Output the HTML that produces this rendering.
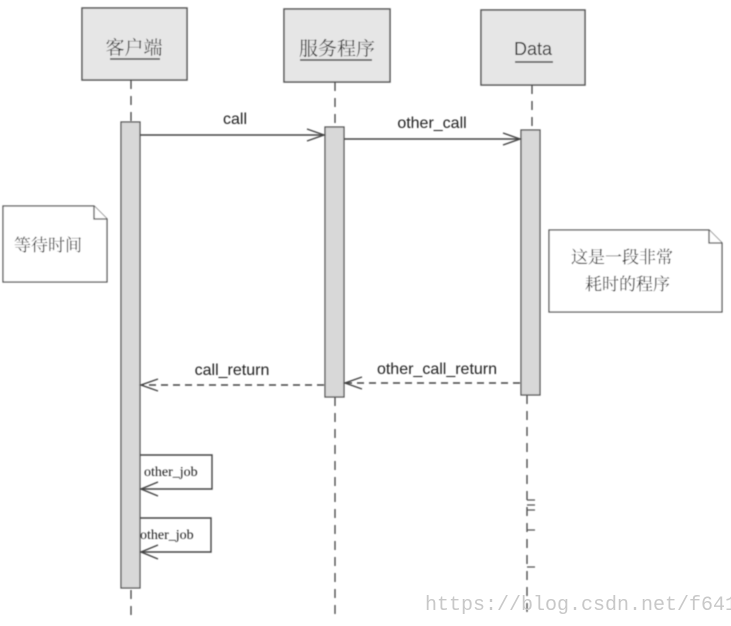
<!DOCTYPE html>
<html><head><meta charset="utf-8"><style>
body{margin:0;background:#fff;}
</style></head><body>
<svg width="731" height="626" xmlns="http://www.w3.org/2000/svg" style="display:block;font-family:'Liberation Serif','Noto Serif CJK SC',serif">
<defs><filter id="b"><feGaussianBlur stdDeviation="0.4"/></filter></defs>
<g filter="url(#b)">
<!-- boxes -->
<g fill="#e6e6e6" stroke="#555" stroke-width="1.5">
<rect x="82" y="8" width="105" height="72"/>
<rect x="284" y="9" width="106" height="73"/>
<rect x="481" y="10" width="104" height="75"/>
</g>
<g font-size="19" fill="#333" text-anchor="middle">
<text x="134" y="54">客户端</text>
<text x="337" y="55">服务程序</text>
<text x="533" y="55" font-family="Liberation Sans, sans-serif" font-size="18">Data</text>
</g>
<g stroke="#444" stroke-width="1.5">
<line x1="110" y1="59" x2="160" y2="59"/>
<line x1="300" y1="60" x2="372" y2="60"/>
<line x1="515" y1="62" x2="553" y2="62"/>
</g>
<!-- lifelines -->
<g stroke="#444" stroke-width="1.3" stroke-dasharray="9,7">
<line x1="131" y1="80" x2="131" y2="122"/>
<line x1="131" y1="590" x2="131" y2="615"/>
<line x1="335" y1="82" x2="335" y2="127"/>
<line x1="335" y1="397" x2="335" y2="615"/>
<line x1="532" y1="85" x2="532" y2="130"/>
<line x1="527" y1="395" x2="527" y2="615"/>
</g>
<g stroke="#555" stroke-width="1.2" fill="none">
<path d="M527 500h8M527 505h8M527 510h8M527 530h8M527 567h8"/>
</g>
<!-- activations -->
<g fill="#d8d8d8" stroke="#555" stroke-width="1.3">
<rect x="121" y="122" width="19" height="466"/>
<rect x="325" y="127" width="19" height="270"/>
<rect x="521" y="130" width="19" height="265"/>
</g>
<!-- messages -->
<g stroke="#444" stroke-width="1.4" fill="none">
<line x1="140" y1="135" x2="324" y2="135"/>
<path d="M307 129l17 6-17 6"/>
<line x1="344" y1="139" x2="520" y2="139"/>
<path d="M503 133l17 6-17 6"/>
<line x1="324" y1="385" x2="141" y2="385" stroke-dasharray="7,5"/>
<path d="M158 379l-17 6 17 6"/>
<line x1="520" y1="383" x2="345" y2="383" stroke-dasharray="7,5"/>
<path d="M362 377l-17 6 17 6"/>
<path d="M140 455h72v34h-71"/>
<path d="M158 482l-17 7 17 7"/>
<path d="M140 518h71v34h-70"/>
<path d="M158 545l-17 7 17 7"/>
</g>
<g font-size="16" fill="#222" text-anchor="middle" font-family="Liberation Sans, sans-serif">
<text x="235" y="124">call</text>
<text x="432" y="128">other_call</text>
<text x="232" y="375">call_return</text>
<text x="437" y="374">other_call_return</text>
</g>
<g font-size="14" fill="#222" font-family="Liberation Serif, serif">
<text x="144" y="476">other_job</text>
<text x="140" y="539">other_job</text>
</g>
<!-- notes -->
<g fill="#fff" stroke="#555" stroke-width="1.3">
<path d="M3 206h91l13 13v63H3z"/>
<path d="M94 206v13h13"/>
<path d="M549 230h160l13 13v69H549z"/>
<path d="M709 230v13h13"/>
</g>
<g font-size="17" fill="#222">
<text x="14" y="251">等待时间</text>
<text x="571" y="263">这是一段非常</text>
<text x="585" y="290">耗时的程序</text>
</g>
</g>
<text x="425" y="610" font-family="Liberation Mono, monospace" font-size="20" fill="#c8c8c8">https://blog.csdn.net/f641</text>
</svg>
</body></html>
